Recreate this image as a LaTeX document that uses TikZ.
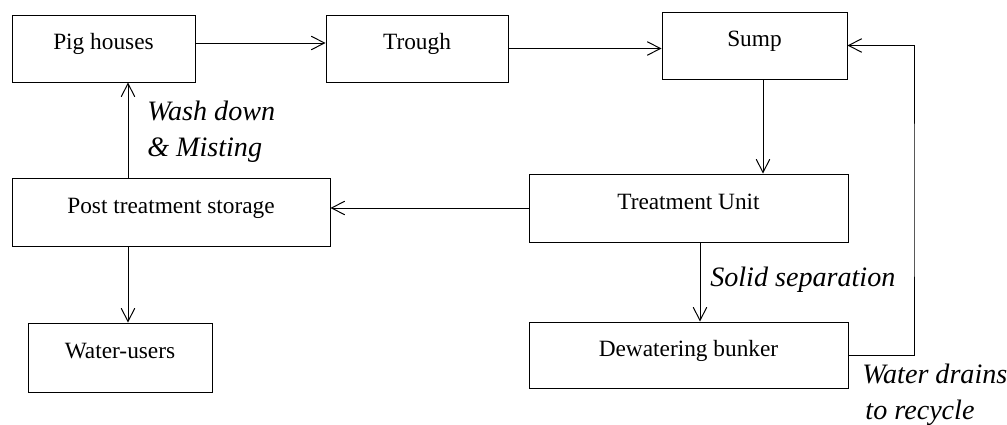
\documentclass[tikz,border=0pt]{standalone}
\usepackage{fontspec}
\setmainfont{Liberation Serif}
\usetikzlibrary{arrows.meta}
\tikzset{
  unit/.style={draw, line width=0.7pt, minimum height=16.75mm, text height=0.8em,
    text depth=0.65em, inner sep=0pt, font=\fontsize{16.6}{20}\selectfont},
  note/.style={font=\fontsize{20}{26}\selectfont\itshape, align=left, inner sep=0pt},
  flow/.style={line width=0.7pt, ->}
}

\begin{document}
\begin{tikzpicture}[x=0.25mm, y=-0.25mm, >={Straight Barb[length=3.3mm,width=3.4mm]}]
    \useasboundingbox (0,0) rectangle (1007,425);
    % process units
    \node[unit, minimum width=45.75mm] (pig) at (103.5,48.5) {Pig houses};
    \node[unit, minimum width=45.5mm] (trough) at (417,48.5) {Trough};
    \node[unit, minimum width=46.25mm] (sump) at (754.5,45.5) {Sump};
    \node[unit, minimum width=79.75mm, minimum height=17mm] (treatment) at (688.5,208) {Treatment Unit};
    \node[unit, minimum width=79.5mm, minimum height=17mm] (post) at (171,212) {Post treatment storage};
    \node[unit, minimum width=46mm, minimum height=17.25mm] (users) at (120,357.5) {Water-users};
    \node[unit, minimum width=79.75mm, minimum height=16.5mm] (bunker) at (688.5,355) {Dewatering bunker};

    \coordinate (wash) at (128,130);
    \coordinate (feed) at (763,120);
    \coordinate (solid) at (700,280);
    \coordinate (drain) at (914,200);

    % flows
    \draw[flow] ([yshift=1.375mm]pig.east) -- ([yshift=1.375mm]trough.west);
    \draw[flow] (trough.east) -- (sump.west |- trough.east);
    \draw[flow] (sump.south -| feed) -- (treatment.north -| feed);
    \draw[flow] (treatment.west) -- (post.east |- treatment.west);
    \draw[flow] (post.north -| wash) -- (pig.south -| wash);
    \draw[flow] (post.south -| wash) -- (users.north -| wash);
    \draw[flow] (treatment.south -| solid) -- (bunker.north -| solid);
    \draw[flow] (bunker.east) -| (drain) |- (sump.east);

    % labels (base = last line)
    \node[note, anchor=base west] (washlbl) at (147,157) {Wash down\\\& Misting};
    \node[note, anchor=base west] (solidlbl) at (710,287) {Solid separation};
    \node[note, anchor=base west] (drainlbl) at (862,420) {Water drains\\\hspace{0.8mm}to recycle};
\end{tikzpicture}
\end{document}
